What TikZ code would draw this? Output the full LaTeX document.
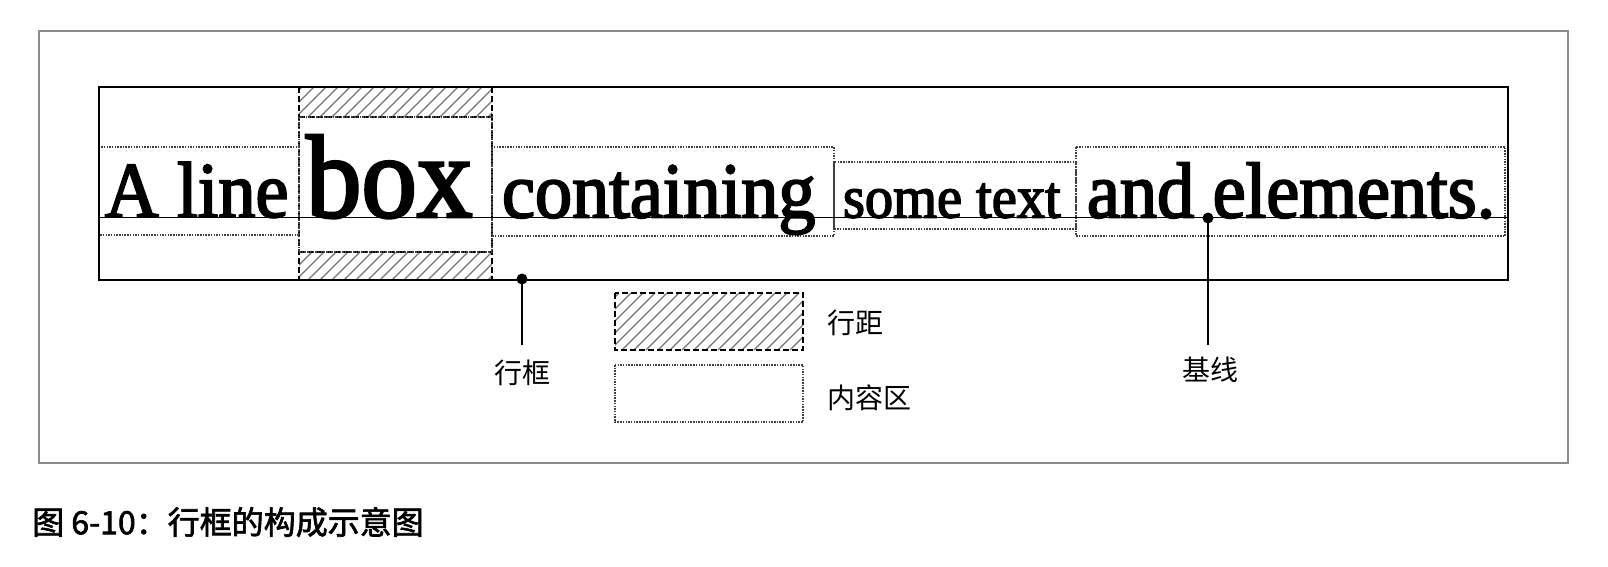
\documentclass[tikz,border=0pt]{standalone}
\usepackage{fontspec}
\newfontfamily\tms[FakeStretch=0.94,FakeBold=2.5]{Liberation Serif}
\newfontfamily\cjk{Noto Sans CJK SC}
\newfontfamily\cjkb[FakeBold=2]{Noto Sans CJK SC}
\tikzset{
  frame/.style={draw=black!45, line width=1.5pt},
  linebox/.style={draw=black, line width=2.6pt},
  content/.style={draw=black!75, line width=1.1pt, dash pattern=on 1.5pt off 1.2pt},
  leading/.style={draw=black, line width=1.8pt, dash pattern=on 6pt off 3pt},
  hatch/.style={draw=black!55, line width=1.1pt},
  tw/.style={anchor=base west, inner sep=0pt, outer sep=0pt},
  lbl/.style={inner sep=0pt, font=\cjk\fontsize{28}{28}\selectfont},
  pointer/.style={draw=black, line width=1.3pt},
}
\begin{document}
\begin{tikzpicture}[x=1pt,y=-1pt]
\useasboundingbox (0,0) rectangle (1608,566);
\draw[frame] (39,31) rectangle (1568,463);

% hatched leading above and below "box"
\begin{scope}
\clip (299,87) rectangle (492,117);
\foreach \k in {260,272,...,500} \draw[hatch] (\k,117) -- ++(30,-30);
\end{scope}
\begin{scope}
\clip (299,252) rectangle (492,280);
\foreach \k in {260,272,...,500} \draw[hatch] (\k,280) -- ++(28,-28);
\end{scope}
\draw[leading] (299,117) -- (492,117);
\draw[leading] (299,252) -- (492,252);
\draw[leading] (299,87) -- (299,280);
\draw[leading] (492,87) -- (492,280);

% content areas
\draw[content] (99,147) rectangle (299,235);
\draw[content] (299,117) rectangle (492,252);
\draw[content] (492,147) rectangle (834,236);
\draw[content] (834,162) rectangle (1076,229);
\draw[content] (1076,147) rectangle (1505,236);

% baseline
\draw[black, line width=1.4pt] (99,217.5) -- (1508,217.5);

% line box
\draw[linebox] (99,87) rectangle (1508,280);

% texts
\node[tw, font=\tms\fontsize{79}{79}\selectfont] (t1) at (105,217) {A line};
\node[tw, font=\tms\fontsize{118}{118}\selectfont] (t2) at (306,217) {box};
\node[tw, font=\tms\fontsize{79}{79}\selectfont] (t3) at (502,217.5) {containing};
\node[tw, font=\tms\fontsize{60}{60}\selectfont] (t4) at (843,217.5) {some text};
\node[tw, font=\tms\fontsize{79}{79}\selectfont] (t5) at (1087,217.5) {and elements.};

% pointers
\coordinate (dotA) at (522,279);
\coordinate (dotB) at (1208,218);
\node[lbl] (lblA) at (522,373) {行框};
\node[lbl] (lblB) at (1210,370) {基线};
\coordinate (endA) at (522,345);
\coordinate (endB) at (1208,345);
\draw[pointer] (dotA) -- (endA);
\draw[pointer] (dotB) -- (endB);
\fill (dotA) circle (5.5);
\fill (dotB) circle (5.5);

% legend
\begin{scope}
\clip (615,293) rectangle (803,350);
\foreach \k in {550,562,...,810} \draw[hatch] (\k,350) -- ++(57,-57);
\end{scope}
\draw[leading] (615,293) rectangle (803,350);
\draw[content] (615,365) rectangle (803,422);
\node[lbl, anchor=west] (lg1) at (827,323) {行距};
\node[lbl, anchor=west] (lg2) at (827,398) {内容区};

% caption
\node[anchor=west, inner sep=0pt, font=\cjkb\fontsize{32}{32}\selectfont] (cap) at (32,522) {图 6-10：行框的构成示意图};
\end{tikzpicture}
\end{document}
